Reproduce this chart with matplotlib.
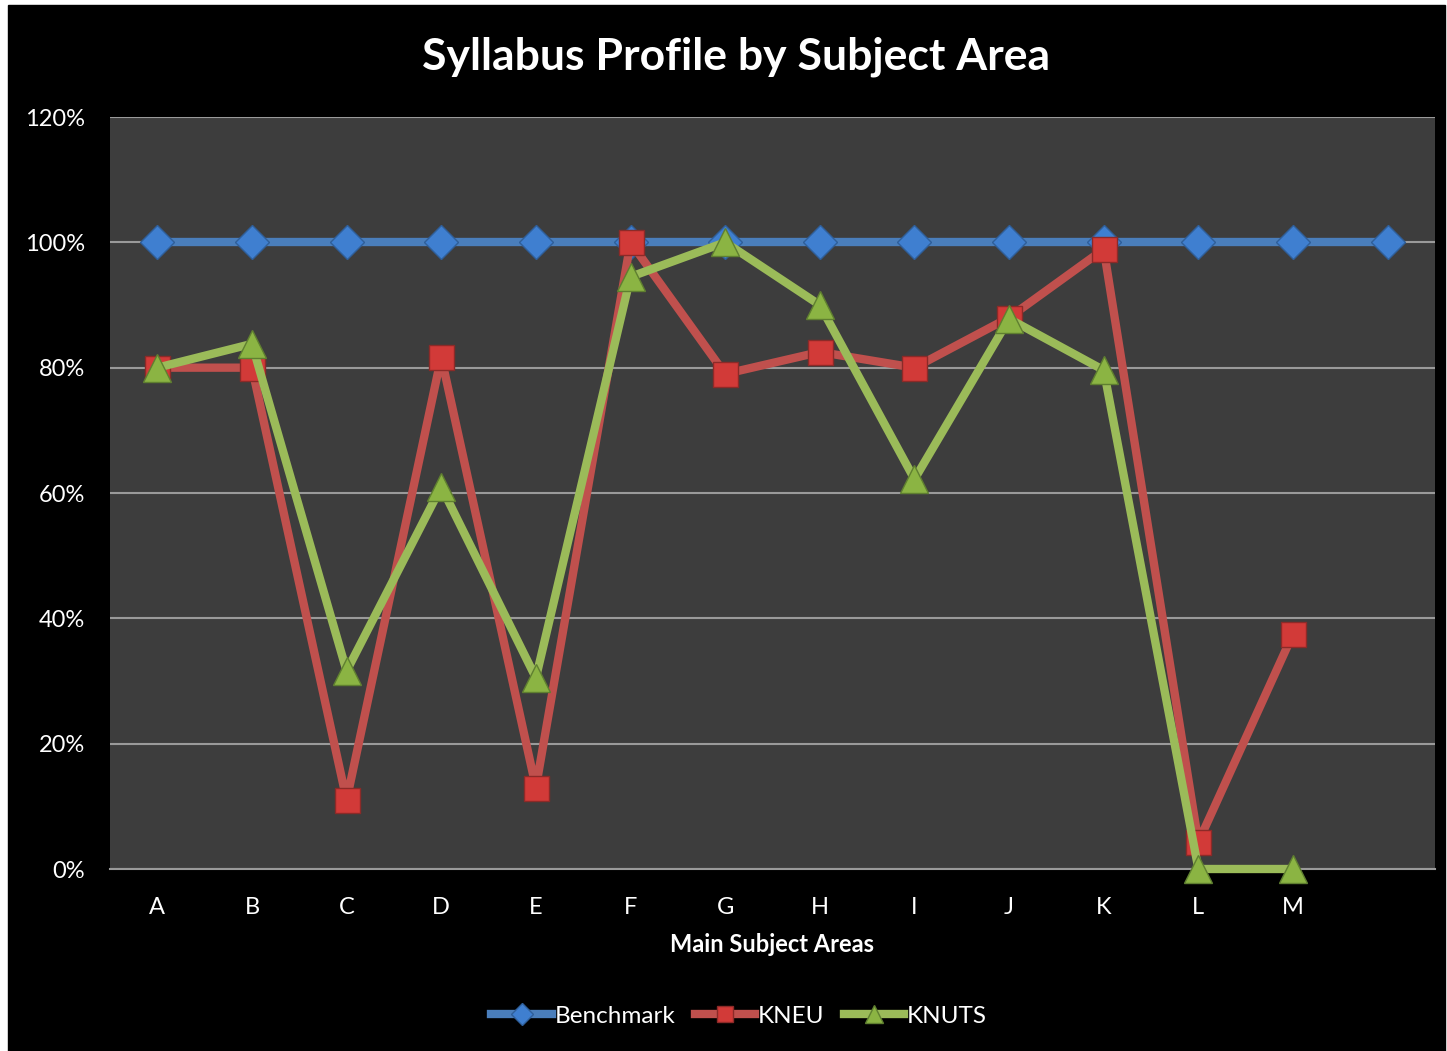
import matplotlib
matplotlib.use("Agg")
import matplotlib.pyplot as plt
from matplotlib.patches import Rectangle
from matplotlib.ticker import FuncFormatter

# Données
areas = ["A", "B", "C", "D", "E", "F", "G", "H", "I", "J", "K", "L", "M", ""]
benchmark = [100, 100, 100, 100, 100, 100, 100, 100, 100, 100, 100, 100, 100, 100]
kneu = [80, 80, 11, 81.7, 13, 100, 79, 82.5, 80, 88, 98.9, 4.3, 37.5]
knuts = [80, 83.8, 31.6, 61, 30.5, 94.5, 100, 90, 62.2, 87.8, 79.6, 0, 0]

plt.rcParams['font.family'] = ['Lato', 'DejaVu Sans']

fig = plt.figure(figsize=(14.47, 10.51), dpi=100)
fig.patch.set_facecolor("white")
# fond noir avec fine bordure blanche en haut et à gauche
fig.patches.append(Rectangle((8 / 1447, 0), 1437 / 1447, 1 - 5 / 1051,
                             transform=fig.transFigure, color="black", zorder=-10))

ax = fig.add_axes([110 / 1447, 1 - 869 / 1051, 1325 / 1447, 752 / 1051])
ax.set_facecolor("#3d3d3d")

x = range(len(areas))
ax.plot(x, benchmark, color="#4a7ebb", lw=6, marker="D", ms=17,
        mfc="#3f7fd0", mec="#2f5f9a", mew=1, label="Benchmark", zorder=3,
        clip_on=False)
ax.plot(range(len(kneu)), kneu, color="#c0504d", lw=6, marker="s", ms=18,
        mfc="#d23a38", mec="#8c2a28", mew=1, label="KNEU", zorder=4,
        clip_on=False)
ax.plot(range(len(knuts)), knuts, color="#9bbb59", lw=6, marker="^", ms=20,
        mfc="#8bb443", mec="#5f7f30", mew=1, label="KNUTS", zorder=5,
        clip_on=False)

ax.set_xlim(-0.5, 13.5)
ax.set_ylim(0, 120)
ax.set_yticks(range(0, 121, 20))
ax.yaxis.set_major_formatter(FuncFormatter(lambda v, p: f"{v:.0f}%"))
ax.set_xticks(list(x))
ax.set_xticklabels(areas)
ax.grid(axis="y", color="#9a9a9a", lw=1.5, zorder=1)
ax.set_axisbelow(True)
ax.tick_params(colors="white", labelsize=17, length=0, pad=20)
ax.tick_params(axis="y", pad=18)
for s in ["left", "right", "top"]:
    ax.spines[s].set_visible(False)
ax.spines["bottom"].set_color("#9a9a9a")
ax.spines["bottom"].set_linewidth(1.5)
ax.spines["bottom"].set_zorder(2)

ax.set_xlabel("Main Subject Areas", color="white", fontsize=17,
              fontweight="bold", labelpad=11)
fig.text(736 / 1447, 1 - 57 / 1051, "Syllabus Profile by Subject Area",
         color="white", fontsize=32, fontweight="bold", ha="center", va="center")

leg = fig.legend(loc="center", bbox_to_anchor=(739 / 1447, 1 - 1016 / 1051),
                 ncol=3, frameon=False, fontsize=17.5, handlelength=2.5,
                 handletextpad=0.1, columnspacing=0.8, labelcolor="white",
                 markerscale=0.65)

fig.savefig("out.png", dpi=100, facecolor=fig.get_facecolor())
